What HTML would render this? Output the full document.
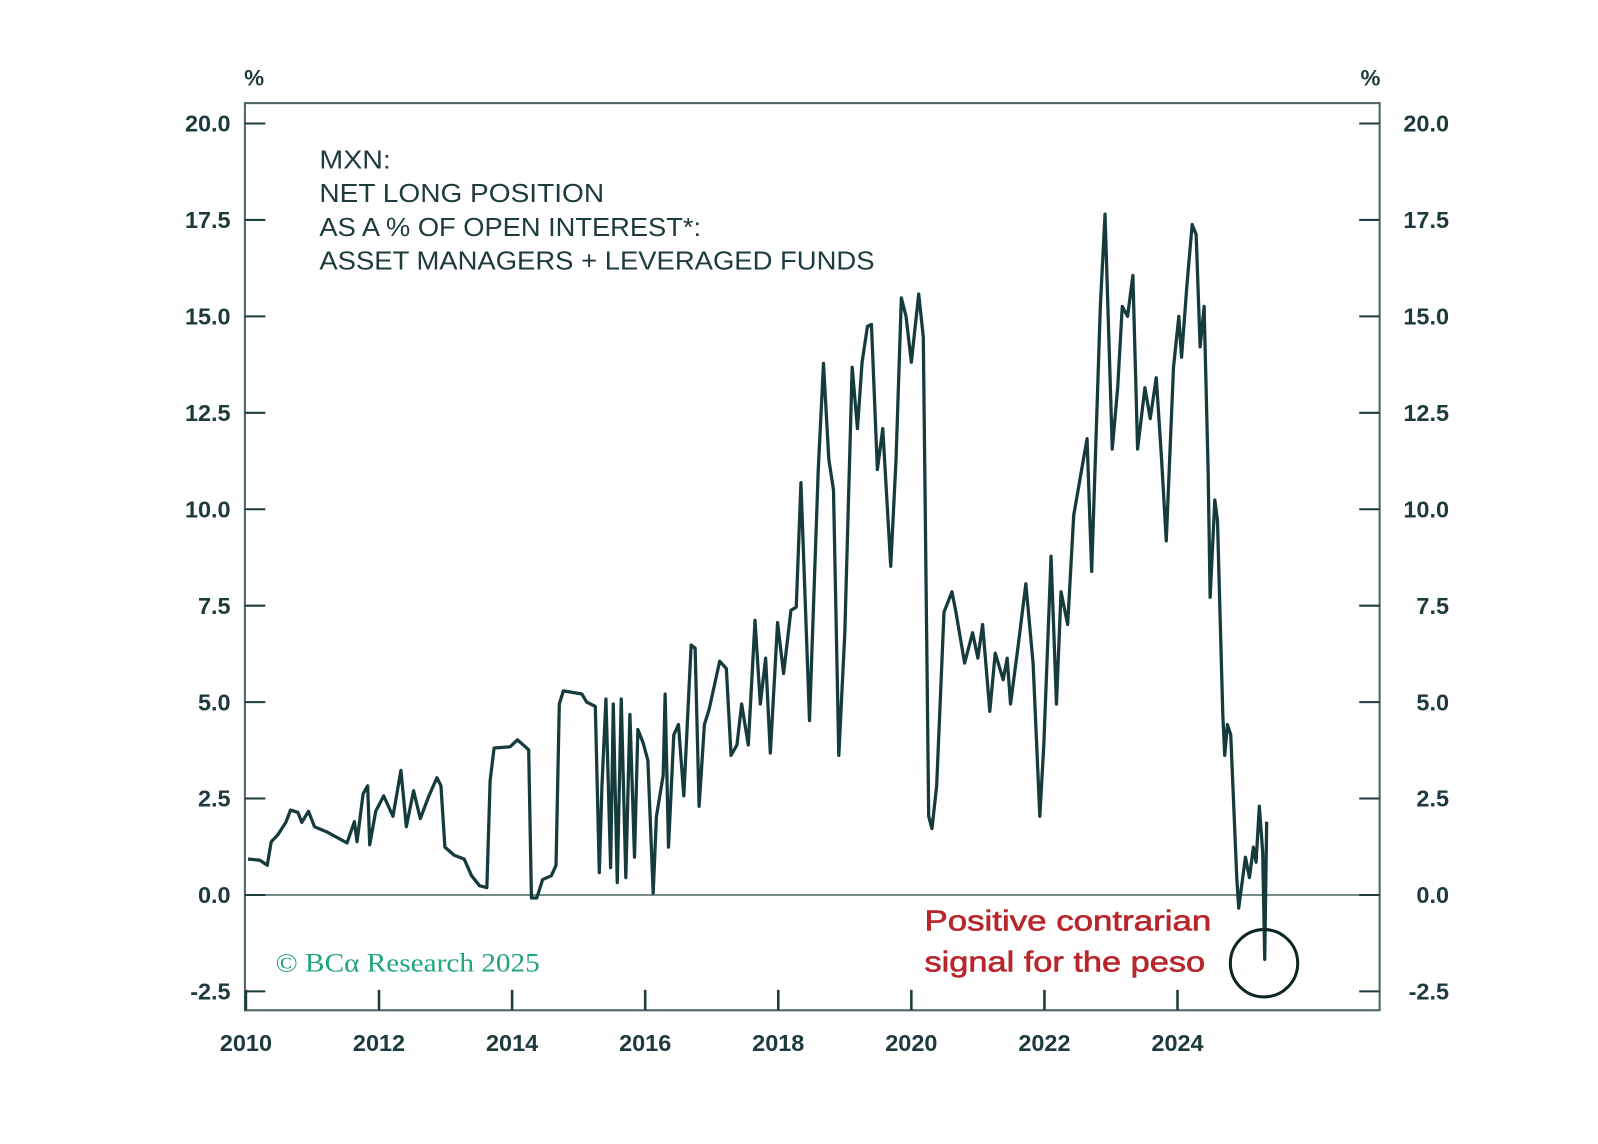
<!DOCTYPE html>
<html><head><meta charset="utf-8"><style>
html,body{margin:0;padding:0;background:#fff;width:1598px;height:1144px;overflow:hidden}
svg{display:block}
.t{font-family:"Liberation Sans",sans-serif;fill:#1d3a3c;font-weight:bold}
.h{font-family:"Liberation Sans",sans-serif;fill:#1d3a3c}
</style></head><body>
<svg id="chart" width="1598" height="1144" viewBox="0 0 1566 1121" xmlns="http://www.w3.org/2000/svg">
<g id="axes"></g>
<g id="series"></g>
<g>
<text class="h" x="313" y="165" font-size="25" textLength="70" lengthAdjust="spacingAndGlyphs">MXN:</text>
<text class="h" x="313" y="198" font-size="25" textLength="279" lengthAdjust="spacingAndGlyphs">NET LONG POSITION</text>
<text class="h" x="313" y="231" font-size="25" textLength="374" lengthAdjust="spacingAndGlyphs">AS A % OF OPEN INTEREST*:</text>
<text class="h" x="313" y="264" font-size="25" textLength="544" lengthAdjust="spacingAndGlyphs">ASSET MANAGERS + LEVERAGED FUNDS</text>
</g>
<text x="270" y="952" font-family="Liberation Serif,serif" font-size="26" fill="#1fa57a" textLength="259" lengthAdjust="spacingAndGlyphs">© BCα Research 2025</text>
<text x="906" y="912" font-family="Liberation Sans,sans-serif" font-size="28" fill="#b8252b" stroke="#b8252b" stroke-width="0.6" textLength="281" lengthAdjust="spacingAndGlyphs">Positive contrarian</text>
<text x="906" y="952" font-family="Liberation Sans,sans-serif" font-size="28" fill="#b8252b" stroke="#b8252b" stroke-width="0.6" textLength="275" lengthAdjust="spacingAndGlyphs">signal for the peso</text>
</svg>
<script>
const yTicks=[-2.5,0,2.5,5,7.5,10,12.5,15,17.5,20];
const yTickLabels=["-2.5","0.0","2.5","5.0","7.5","10.0","12.5","15.0","17.5","20.0"];
const xTicks=[2010,2012,2014,2016,2018,2020,2022,2024];
const xTickLabels=["2010","2012","2014","2016","2018","2020","2022","2024"];
const yearOffsets=[0.03,0.21,0.32,0.38,0.48,0.60,0.67,0.78,0.84,0.94,1.03,1.21,1.52,1.63,1.67,1.76,1.83,1.86,1.95,2.07,2.21,2.33,2.41,2.52,2.62,2.75,2.87,2.93,2.99,3.13,3.28,3.39,3.51,3.62,3.67,3.73,3.97,4.08,4.20,4.25,4.29,4.37,4.46,4.59,4.66,4.71,4.77,5.05,5.12,5.25,5.31,5.35,5.41,5.48,5.52,5.58,5.64,5.71,5.77,5.84,5.89,5.97,6.04,6.12,6.17,6.27,6.30,6.35,6.43,6.50,6.58,6.69,6.75,6.81,6.89,6.96,7.12,7.22,7.29,7.38,7.45,7.55,7.65,7.73,7.81,7.88,7.99,8.08,8.19,8.27,8.34,8.47,8.60,8.68,8.76,8.83,8.91,9.00,9.11,9.19,9.26,9.34,9.40,9.49,9.57,9.69,9.77,9.85,9.92,10.00,10.11,10.18,10.26,10.31,10.38,10.49,10.61,10.67,10.80,10.92,11.00,11.07,11.18,11.26,11.38,11.44,11.49,11.61,11.72,11.83,11.93,11.99,12.10,12.18,12.25,12.35,12.44,12.56,12.64,12.71,12.84,12.91,13.02,13.10,13.17,13.25,13.33,13.40,13.51,13.59,13.68,13.76,13.83,13.94,14.02,14.06,14.14,14.22,14.28,14.34,14.40,14.46,14.49,14.56,14.60,14.68,14.71,14.75,14.80,14.89,14.92,15.02,15.08,15.14,15.18,15.23,15.28,15.31,15.34];
const netLong=[0.93,0.90,0.77,1.38,1.56,1.88,2.20,2.14,1.88,2.17,1.77,1.64,1.35,1.90,1.38,2.62,2.83,1.30,2.17,2.57,2.04,3.23,1.77,2.70,1.98,2.57,3.04,2.83,1.24,1.03,0.93,0.50,0.24,0.19,2.96,3.81,3.84,4.02,3.84,3.76,-0.08,-0.08,0.40,0.50,0.77,4.95,5.29,5.21,5.00,4.89,0.58,2.83,5.08,0.71,4.95,0.32,5.08,0.45,4.68,0.98,4.29,3.94,3.49,0.05,2.04,3.10,5.21,1.24,4.15,4.42,2.57,6.48,6.40,2.30,4.42,4.81,6.06,5.87,3.62,3.89,4.95,3.89,7.12,4.95,6.14,3.68,7.06,5.74,7.38,7.46,10.69,4.52,10.98,13.78,11.30,10.50,3.62,6.80,13.68,12.09,13.81,14.74,14.79,11.03,12.09,8.52,11.30,15.48,15.00,13.81,15.58,14.47,2.04,1.72,2.83,7.33,7.86,7.33,6.01,6.80,6.14,7.01,4.76,6.27,5.58,6.14,4.95,6.53,8.07,6.01,2.04,3.89,8.78,4.95,7.86,7.01,9.84,11.03,11.83,8.39,15.26,17.65,11.56,13.15,15.26,15.00,16.06,11.56,13.15,12.35,13.41,11.30,9.18,13.68,15.00,13.94,15.79,17.38,17.12,14.21,15.26,11.03,7.72,10.24,9.71,4.68,3.62,4.42,4.15,0.45,-0.34,0.98,0.45,1.24,0.85,2.30,1.11,-1.67,1.90];
const circleMark=[15.30,-1.77];
const NS="http://www.w3.org/2000/svg";
const L=240,R=1352,T=101,B=990;
function xs(yr){return 241+(yr-2010)*65.21;}
function ys(v){return 877-v*37.8;}
function mk(tag,attrs,parent){const e=document.createElementNS(NS,tag);for(const k in attrs)e.setAttribute(k,attrs[k]);parent.appendChild(e);return e;}
const ax=document.getElementById('axes');
const frame=mk('rect',{x:L,y:T,width:R-L,height:B-T,fill:'none',stroke:'#4a6466','stroke-width':2},ax);


const zl=mk('line',{x1:L,x2:R,y1:ys(0),y2:ys(0),stroke:'#4a6466','stroke-width':1.5},ax);


yTicks.forEach((v,i)=>{
  const y=ys(v);
  const a=mk('line',{x1:L,x2:L+20,y1:y,y2:y,stroke:'#1d3a3c','stroke-width':2},ax);
  
  
  const b=mk('line',{x1:R-20,x2:R,y1:y,y2:y,stroke:'#1d3a3c','stroke-width':2},ax);
  
  
  const t1=mk('text',{x:226,y:y+8,'text-anchor':'end','font-size':23,class:'t'},ax);
  t1.textContent=yTickLabels[i];
  
  
  const t2=mk('text',{x:1420,y:y+8,'text-anchor':'end','font-size':23,class:'t'},ax);
  t2.textContent=yTickLabels[i];
  
  
});
xTicks.forEach((yr,i)=>{
  const x=xs(yr);
  const a=mk('line',{x1:x,x2:x,y1:B,y2:B-20,stroke:'#1d3a3c','stroke-width':2.5},ax);
  
  
  const t=mk('text',{x:x,y:1030,'text-anchor':'middle','font-size':23,class:'t'},ax);
  t.textContent=xTickLabels[i];
  
  
});
const p1=mk('text',{x:249,y:84,'text-anchor':'middle','font-size':22,class:'t'},ax);
p1.textContent='%';


const p2=mk('text',{x:1343,y:84,'text-anchor':'middle','font-size':22,class:'t'},ax);
p2.textContent='%';


const sg=document.getElementById('series');
const d=yearOffsets.map((o,i)=>(i?'L':'M')+xs(2010+o).toFixed(1)+','+ys(netLong[i]).toFixed(1)).join(' ');
const line=mk('path',{d:d,fill:'none',stroke:'#163b3d','stroke-width':3.2,'stroke-linejoin':'round'},sg);


const c=mk('circle',{cx:xs(2010+circleMark[0]),cy:ys(circleMark[1]),r:33,fill:'none',stroke:'#0f2526','stroke-width':3},sg);


</script>
</body></html>
